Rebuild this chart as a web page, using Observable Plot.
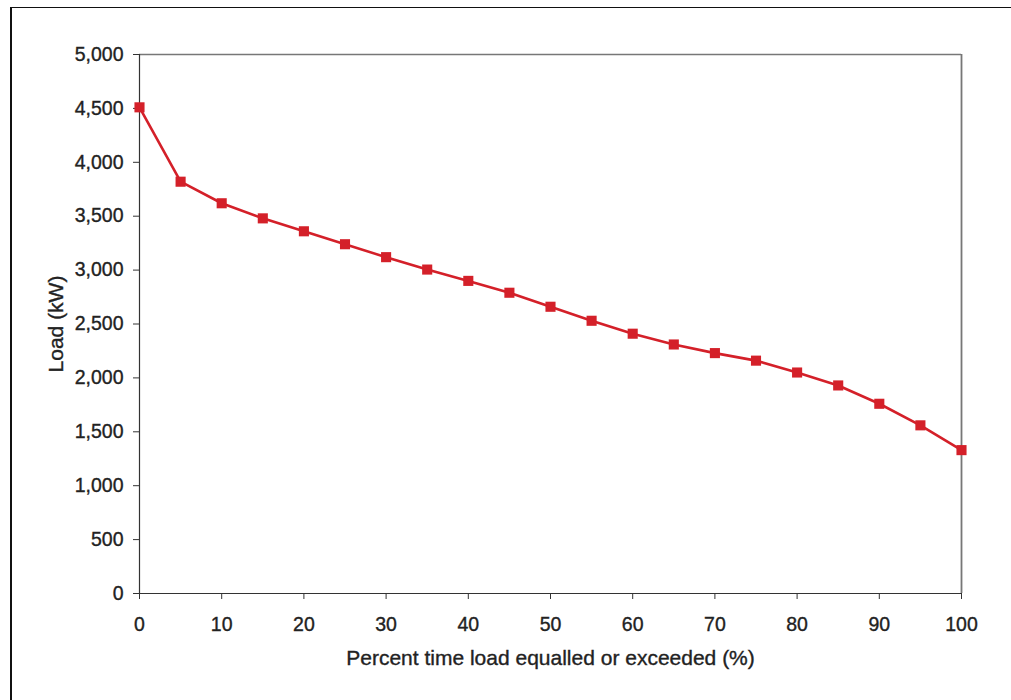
<!DOCTYPE html>
<html>
<head>
<meta charset="utf-8">
<script src="https://cdn.jsdelivr.net/npm/d3@7"></script>
<script src="https://cdn.jsdelivr.net/npm/@observablehq/plot@0.6"></script>
<style>
  html, body { margin: 0; padding: 0; background: #fff; }
  #wrap { position: relative; width: 1011px; height: 700px; overflow: hidden; }
  #wrap svg { position: absolute; left: 0; top: 0; }
  #wrap svg text { stroke: #222; stroke-width: 0.35px; }
  #border { position: absolute; left: 10px; top: 7px; width: 1100px; height: 800px;
            border-top: 1.6px solid #111; border-left: 2px solid #111; pointer-events: none; }
</style>
</head>
<body>
<div id="wrap"><div id="border"></div></div>
<script>
const percentTime = [0, 5, 10, 15, 20, 25, 30, 35, 40, 45, 50, 55, 60, 65, 70, 75, 80, 85, 90, 95, 100];
const loadKW = [4510, 3820, 3620, 3480, 3360, 3240, 3120, 3005, 2900, 2790, 2660, 2530, 2410, 2310, 2230, 2160, 2050, 1930, 1760, 1560, 1330];
const xTicks = [0, 10, 20, 30, 40, 50, 60, 70, 80, 90, 100];
const yTicks = [0, 500, 1000, 1500, 2000, 2500, 3000, 3500, 4000, 4500, 5000];
const xLabel = "Percent time load equalled or exceeded (%)";
const yLabel = "Load (kW)";

const data = percentTime.map((p, i) => ({p, load: loadKW[i]}));
const red = "#d42029";

const chart = Plot.plot({
  width: 1011,
  height: 700,
  marginLeft: 139,
  marginRight: 50,
  marginTop: 54,
  marginBottom: 107,
  style: {fontFamily: "'Liberation Sans', Arial, Helvetica, sans-serif", fontSize: "19.5px", color: "#222", background: "transparent"},
  x: {domain: [0, 100]},
  y: {domain: [0, 5000]},
  marks: [
    Plot.ruleY([5000], {stroke: "#777", strokeWidth: 1.6}),
    Plot.ruleX([100], {stroke: "#777", strokeWidth: 1.8}),
    Plot.ruleX([0], {stroke: "#333", strokeWidth: 1.2}),
    Plot.ruleY([0], {stroke: "#333", strokeWidth: 1.2}),
    Plot.axisY({ticks: yTicks, tickFormat: d3.format(","), tickSize: 6, tickPadding: 10, stroke: "#333", fill: "#222", label: null}),
    Plot.axisY({ticks: [], label: yLabel, labelAnchor: "center", labelArrow: "none", labelOffset: 91, fill: "#222", fontSize: 21}),
    Plot.axisX({ticks: xTicks, tickFormat: d => String(d), tickSize: 6, tickPadding: 18, stroke: "#333", fill: "#222", label: null}),
    Plot.axisX({ticks: [], label: xLabel, labelAnchor: "center", labelArrow: "none", labelOffset: 71, fill: "#222", fontSize: 21}),
    Plot.line(data, {x: "p", y: "load", stroke: red, strokeWidth: 2.6}),
    Plot.dot(data, {x: "p", y: "load", symbol: "square", r: 5.7, fill: red, stroke: "none"})
  ]
});
document.getElementById("wrap").appendChild(chart);
</script>
</body>
</html>
